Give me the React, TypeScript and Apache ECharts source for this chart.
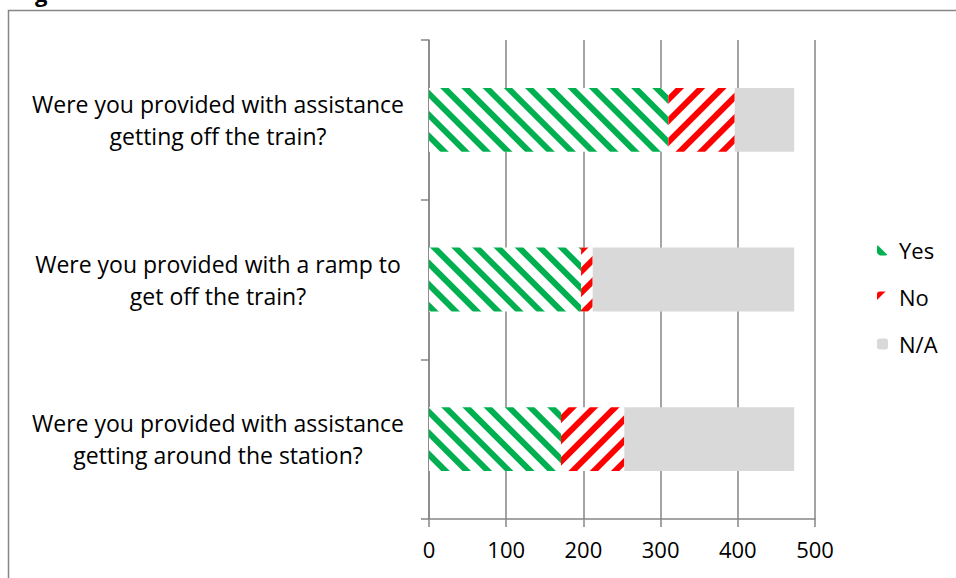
import React, { useEffect, useRef } from "react";
import * as echarts from "echarts";

const categories = [
  "Were you provided with assistance\ngetting off the train?",
  "Were you provided with a ramp to\nget off the train?",
  "Were you provided with assistance\ngetting around the station?",
];
const yesValues = [310, 197, 171];
const noValues = [86, 15, 82];
const naValues = [77, 261, 220];
const seriesNames = ["Yes", "No", "N/A"];
const xTicks = [0, 100, 200, 300, 400, 500];

const FONT = "'Open Sans', 'Noto Sans', sans-serif";
const AXIS_GRAY = "#868686";

export default function App() {
  const ref = useRef<HTMLDivElement>(null);
  useEffect(() => {
    if (!ref.current) return;
    const chart = echarts.init(ref.current, undefined, { renderer: "svg" });
    const stripe = (color: string, rot: number) => ({
      symbol: "rect",
      symbolSize: 1,
      dashArrayX: [1, 0],
      dashArrayY: [6, 9],
      rotation: rot,
      color,
    });
    chart.setOption({
      animation: false,
      backgroundColor: "#ffffff",
      textStyle: { fontFamily: FONT },
      grid: { left: 429, right: 141, top: 40, bottom: 59, containLabel: false },
      graphic: [
        {
          type: "rect",
          shape: { x: 8.5, y: 10.5, width: 1200, height: 1200 },
          style: { fill: "none", stroke: AXIS_GRAY, lineWidth: 1.5 },
          silent: true,
        },
        {
          type: "text",
          x: 35,
          y: 4,
          style: {
            text: "g",
            font: "bold 22px " + FONT,
            fill: "#000",
            verticalAlign: "bottom",
          },
          silent: true,
        },
      ],
      legend: {
        orient: "vertical",
        left: 877,
        top: 239,
        padding: 0,
        itemWidth: 11,
        itemHeight: 11,
        itemGap: 25,
        data: seriesNames,
        textStyle: { fontSize: 22, color: "#000", fontFamily: FONT, padding: [0, 0, 0, 6] },
      },
      xAxis: {
        type: "value",
        min: 0,
        max: 500,
        interval: 100,
        axisLine: { show: true, lineStyle: { color: AXIS_GRAY, width: 1.5 } },
        axisTick: { show: true, length: 8, lineStyle: { color: AXIS_GRAY, width: 1.5 } },
        splitLine: { show: true, lineStyle: { color: AXIS_GRAY, width: 1.5 } },
        axisLabel: {
          color: "#000",
          fontSize: 22,
          fontFamily: FONT,
          margin: 19,
          formatter: (v: number) => (xTicks.includes(v) ? String(v) : ""),
        },
      },
      yAxis: {
        type: "category",
        inverse: true,
        data: categories,
        axisLine: { show: true, lineStyle: { color: AXIS_GRAY, width: 1.5 } },
        axisTick: { show: true, length: 8, lineStyle: { color: AXIS_GRAY, width: 1.5 } },
        axisLabel: {
          color: "#000",
          fontSize: 23,
          fontFamily: FONT,
          align: "center",
          margin: 211,
          lineHeight: 32,
          padding: [6, 0, 0, 0],
        },
      },
      series: [
        {
          name: seriesNames[0],
          type: "bar",
          stack: "total",
          barWidth: "40%",
          data: yesValues,
          itemStyle: { color: "#ffffff", decal: stripe("#00b050", Math.PI / 4) },
        },
        {
          name: seriesNames[1],
          type: "bar",
          stack: "total",
          barWidth: "40%",
          data: noValues,
          itemStyle: { color: "#ffffff", decal: stripe("#ff0000", -Math.PI / 4) },
        },
        {
          name: seriesNames[2],
          type: "bar",
          stack: "total",
          barWidth: "40%",
          data: naValues,
          itemStyle: { color: "#d9d9d9" },
        },
      ],
    });
    return () => chart.dispose();
  }, []);
  return (
    <div
      ref={ref}
      style={{ position: "fixed", left: 0, top: 0, width: 956, height: 578, background: "#fff" }}
    />
  );
}
